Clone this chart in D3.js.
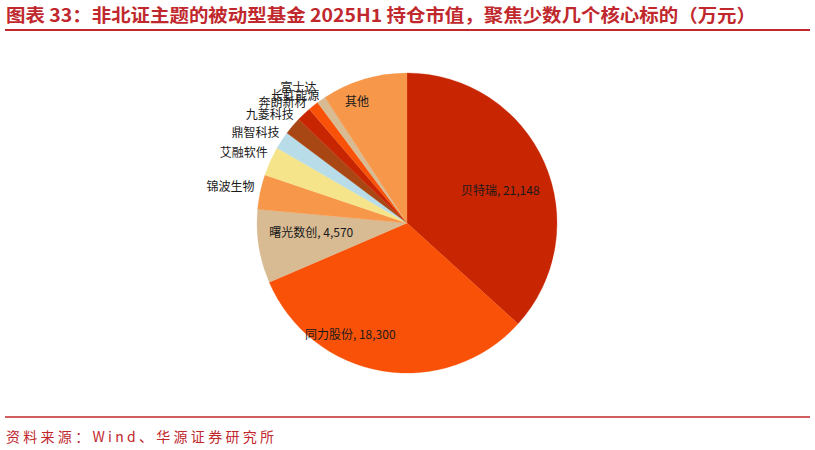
<!DOCTYPE html>
<html>
<head>
<meta charset="utf-8">
<script src="https://cdn.jsdelivr.net/npm/d3@7"></script>
<style>
  html, body { margin: 0; padding: 0; background: #fff; }
  svg { display: block; }
  text { font-family: "Noto Sans CJK SC", "Noto Sans", sans-serif; }
</style>
</head>
<body>
<svg id="chart" width="815" height="450"></svg>
<script>
const titleText = "图表 33：非北证主题的被动型基金 2025H1 持仓市值，聚焦少数几个核心标的（万元）";
const sourceText = "资料来源：Wind、华源证券研究所";

const names  = ["贝特瑞", "同力股份", "曙光数创", "锦波生物", "艾融软件", "鼎智科技", "九菱科技", "奔朗新材", "长虹能源", "富士达", "其他"];
const values = [21148, 18300, 4570, 2150, 1800, 1100, 1100, 900, 650, 550, 5300];
const showValue = [true, true, true, false, false, false, false, false, false, false, false];
const inside    = [true, true, true, false, false, false, false, false, false, false, true];

const colors = ["#C82503", "#F95208", "#D9BB93", "#F6974A", "#F6E48A", "#B8DDE8", "#A94714", "#C82503", "#F95208", "#D9BB93", "#F6974A"];

// label placement nudges (layout only, px)
const labelNudge = {
  "贝特瑞": [0, 8], "同力股份": [-40, 10], "曙光数创": [5, -7], "其他": [-21, -25],
  "锦波生物": [-1, 1], "艾融软件": [2, -1], "鼎智科技": [2, 0], "九菱科技": [5, -3],
  "奔朗新材": [6, -3], "长虹能源": [9, -1], "富士达": [-2, -3]
};

const svg = d3.select("#chart");
const red = "#C0282D";

// Title
svg.append("text")
  .attr("x", 6).attr("y", 22)
  .attr("font-size", 18).attr("font-weight", "bold")
  .attr("fill", red)
  .attr("textLength", 750).attr("lengthAdjust", "spacingAndGlyphs")
  .text(titleText);
svg.append("line")
  .attr("x1", 5).attr("x2", 810).attr("y1", 30).attr("y2", 30)
  .attr("stroke", red).attr("stroke-width", 2);

// Footer
svg.append("line")
  .attr("x1", 5).attr("x2", 810).attr("y1", 417).attr("y2", 417)
  .attr("stroke", red).attr("stroke-width", 1.5);
svg.append("text")
  .attr("x", 6).attr("y", 442)
  .attr("font-size", 14)
  .attr("fill", red)
  .attr("textLength", 268).attr("lengthAdjust", "spacing")
  .text(sourceText);

// Pie
const cx = 407, cy = 223, R = 150;
const data = names.map((n, i) => ({ name: n, value: values[i], i }));
const pie = d3.pie().value(d => d.value).sort(null).startAngle(0).endAngle(2 * Math.PI);
const arcs = pie(data);
const arc = d3.arc().innerRadius(0).outerRadius(R);
const g = svg.append("g").attr("transform", `translate(${cx},${cy})`);

g.selectAll("path.slice").data(arcs).enter().append("path")
  .attr("class", "slice")
  .attr("d", arc)
  .attr("fill", d => colors[d.data.i])
  .attr("stroke", d => colors[d.data.i]).attr("stroke-width", 0.3);

const fmt = d3.format(",");
const labelArc = d3.arc().innerRadius(R * 0.68).outerRadius(R * 0.68);

arcs.forEach(a => {
  const i = a.data.i;
  const nd = labelNudge[a.data.name] || [0, 0];
  const label = showValue[i] ? `${a.data.name}, ${fmt(a.data.value)}` : a.data.name;
  if (inside[i]) {
    const [x, y] = labelArc.centroid(a);
    g.append("text")
      .attr("x", x + nd[0]).attr("y", y + nd[1])
      .attr("text-anchor", "middle").attr("dominant-baseline", "central")
      .attr("font-size", 12).attr("fill", "#1a1a1a")
      .text(label);
  } else {
    const mid = (a.startAngle + a.endAngle) / 2;
    const r = R + 5;
    const x = r * Math.sin(mid), y = -r * Math.cos(mid);
    g.append("text")
      .attr("x", x + nd[0]).attr("y", y - 1 + nd[1])
      .attr("text-anchor", "end")
      .attr("font-size", 12).attr("fill", "#1a1a1a")
      .text(label);
  }
});
</script>
</body>
</html>
